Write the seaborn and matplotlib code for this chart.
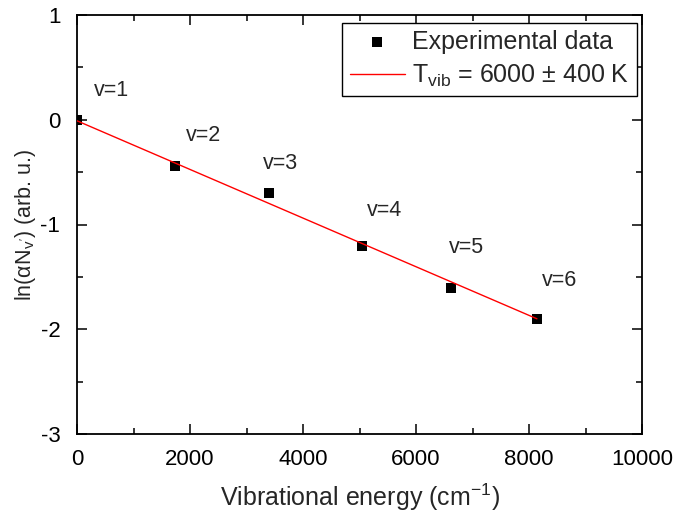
import matplotlib
matplotlib.use("Agg")
import matplotlib.pyplot as plt
from matplotlib.ticker import MultipleLocator
import seaborn as sns
import pandas as pd

# ---- data ----
energy = [0, 1735, 3404, 5039, 6614, 8140]
ln_pop = [0.0, -0.44, -0.70, -1.21, -1.61, -1.90]
fit_x = [0, 8140]
fit_y = [-0.01, -1.90]
level_labels = ["v=1", "v=2", "v=3", "v=4", "v=5", "v=6"]
label_x = [619, 2239, 3593, 5451, 6885, 8549]
label_y = [0.284, -0.146, -0.413, -0.871, -1.215, -1.530]
x_ticks = [0, 2000, 4000, 6000, 8000, 10000]
y_ticks = [-3, -2, -1, 0, 1]

sns.set_style("ticks")
plt.rcParams["font.family"] = ["Liberation Sans", "DejaVu Sans"]
plt.rcParams["mathtext.fontset"] = "custom"
plt.rcParams["mathtext.rm"] = "Liberation Sans"
plt.rcParams["mathtext.it"] = "Liberation Sans"
plt.rcParams["mathtext.bf"] = "Liberation Sans:bold"
plt.rcParams["axes.unicode_minus"] = False

fig = plt.figure(figsize=(6.81, 5.17), dpi=100)
ax = fig.add_axes([77 / 681, 1 - 434 / 517, (642 - 77) / 681, (434 - 15) / 517])

pts = pd.DataFrame({"E": energy, "L": ln_pop})
fit = pd.DataFrame({"E": fit_x, "L": fit_y})

sns.scatterplot(data=pts, x="E", y="L", marker="s", s=62, color="black",
                edgecolor="black", linewidth=0, ax=ax, label="Experimental data",
                zorder=3)
sns.lineplot(data=fit, x="E", y="L", color="red", linewidth=1.0, ax=ax,
             label=r"T$_{\mathrm{vib}}$ = 6000 ± 400 K", zorder=4)

for t, x, y in zip(level_labels, label_x, label_y):
    ax.text(x, y, t, fontsize=15.5, ha="center", va="center")

ax.set_xlim(0, 10000)
ax.set_ylim(-3, 1)
ax.set_xticks(x_ticks)
ax.set_yticks(y_ticks)
ax.xaxis.set_minor_locator(MultipleLocator(1000))
ax.yaxis.set_minor_locator(MultipleLocator(0.5))
ax.tick_params(which="both", direction="in", top=True, right=True,
               labelsize=16, width=1.1, colors="black")
ax.tick_params(axis="x", which="both", pad=11)
ax.tick_params(axis="y", which="both", pad=12)
ax.tick_params(which="major", length=7)
ax.tick_params(which="minor", length=4)
for s in ax.spines.values():
    s.set_visible(True)
    s.set_linewidth(1.3)
    s.set_color("black")

ax.set_xlabel("Vibrational energy (cm$^{-1}$)", fontsize=18, labelpad=8)
ax.set_ylabel("ln(αN$_{v'}$) (arb. u.)", fontsize=15.5, labelpad=2)

leg = ax.legend(loc="upper right", bbox_to_anchor=(0.991, 0.982),
                borderaxespad=0, fontsize=18, frameon=True, fancybox=False,
                edgecolor="black", framealpha=1, handlelength=2.2,
                handletextpad=0.3, labelspacing=0.35, borderpad=0.3)
leg.get_frame().set_linewidth(1.0)

fig.savefig("out.png", dpi=100)
